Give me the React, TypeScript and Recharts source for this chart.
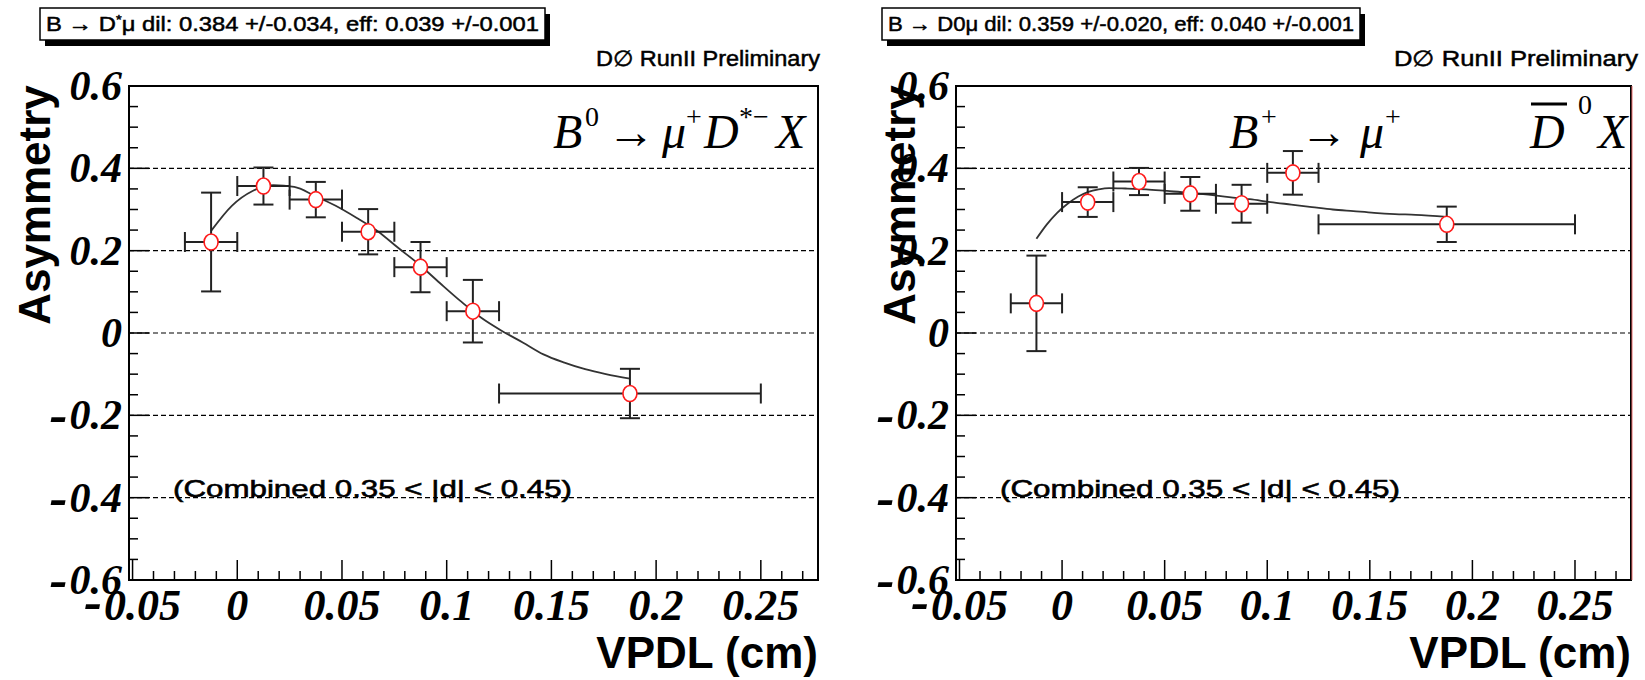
import React from "react";
import { ComposedChart, Scatter, Line, XAxis, YAxis, ErrorBar, ReferenceLine, ReferenceArea } from "recharts";

// VPDL bins (cm): centres and half widths, shared by both panels
const binCenters = [-0.0125, 0.0125, 0.0375, 0.0625, 0.0875, 0.1125, 0.1875];
const binHalfWidths = [0.0125, 0.0125, 0.0125, 0.0125, 0.0125, 0.0125, 0.0625];

// B -> D*mu sample
const dstarAsym = [0.221, 0.357, 0.324, 0.246, 0.16, 0.053, -0.147];
const dstarErr = [0.12, 0.045, 0.043, 0.055, 0.061, 0.076, 0.06];
const dstarFitX = [-0.0125, -0.0026, 0.0073, 0.0173, 0.0272, 0.0371, 0.047, 0.0569, 0.0669, 0.0768, 0.0867, 0.0966, 0.1065, 0.1165, 0.1264, 0.1363, 0.1462, 0.1562, 0.1661, 0.176, 0.1875];
const dstarFitY = [0.248, 0.309, 0.345, 0.359, 0.355, 0.333, 0.309, 0.28, 0.248, 0.207, 0.167, 0.122, 0.078, 0.037, 0.005, -0.023, -0.052, -0.072, -0.088, -0.1, -0.111];

// B -> D0mu sample
const d0Asym = [0.072, 0.318, 0.368, 0.338, 0.314, 0.389, 0.264];
const d0Err = [0.116, 0.036, 0.033, 0.041, 0.046, 0.053, 0.043];
const d0FitX = [-0.0125, -0.0074, -0.0024, 0.0027, 0.0077, 0.0128, 0.0178, 0.0229, 0.0309, 0.041, 0.0511, 0.0612, 0.0713, 0.0814, 0.0915, 0.1016, 0.1117, 0.1218, 0.1319, 0.142, 0.1521, 0.1622, 0.1723, 0.1875];
const d0FitY = [0.229, 0.264, 0.292, 0.314, 0.331, 0.343, 0.349, 0.352, 0.351, 0.349, 0.345, 0.341, 0.336, 0.33, 0.325, 0.318, 0.312, 0.306, 0.3, 0.296, 0.292, 0.289, 0.287, 0.282];

const xMajorTicks = [-0.05, 0, 0.05, 0.1, 0.15, 0.2, 0.25];
const xMinorTicks = [-0.04, -0.03, -0.02, -0.01, 0.01, 0.02, 0.03, 0.04, 0.06, 0.07, 0.08, 0.09, 0.11, 0.12, 0.13, 0.14, 0.16, 0.17, 0.18, 0.19, 0.21, 0.22, 0.23, 0.24, 0.26, 0.27];
const yMajorTicks = [-0.6, -0.4, -0.2, 0, 0.2, 0.4, 0.6];
const yMinorTicks = [-0.55, -0.5, -0.45, -0.35, -0.3, -0.25, -0.15, -0.1, -0.05, 0.05, 0.1, 0.15, 0.25, 0.3, 0.35, 0.45, 0.5, 0.55];
const gridLevels = [-0.4, -0.2, 0, 0.2, 0.4];

const X_DOMAIN: [number, number] = [-0.0517, 0.2773];
const PLOT_BOTTOM = 580;

const serifNum = { fontFamily: "'Liberation Serif', 'DejaVu Serif', serif", fontStyle: "italic", fontWeight: "bold" } as const;
const sans = "'Liberation Sans', Arial, sans-serif";

// ROOT's minus sign is wider than the font's hyphen
function NumLabel({ v }: { v: number }) {
  const s = String(v);
  if (s.startsWith("-")) {
    return (
      <>
        <tspan fontSize={54}>-</tspan>
        <tspan dx={2}>{s.slice(1)}</tspan>
      </>
    );
  }
  return <>{s}</>;
}

function Marker(props: any) {
  if (props.cx == null) return <g />;
  return <ellipse cx={props.cx} cy={props.cy} rx={7} ry={8} fill="#fff" stroke="#ff1a1a" strokeWidth={1.6} />;
}

function makeYTick(plotLeft: number) {
  return (props: any) => {
    const v = props.payload.value;
    const major = yMajorTicks.includes(v);
    return (
      <g>
        <line x1={plotLeft} x2={plotLeft + (major ? 20 : 9)} y1={props.y} y2={props.y} stroke="#000" strokeWidth={1.5} />
        {major && (
          <text x={plotLeft - 7} y={props.y} textAnchor="end" dominantBaseline="central" fontSize={42} {...serifNum}>
            <NumLabel v={v} />
          </text>
        )}
      </g>
    );
  };
}

function XTick(props: any) {
  const v = props.payload.value;
  const major = xMajorTicks.includes(v);
  return (
    <g>
      <line x1={props.x} x2={props.x} y1={PLOT_BOTTOM} y2={PLOT_BOTTOM - (major ? 20 : 9)} stroke="#000" strokeWidth={1.5} />
      {major && (
        <text x={props.x} y={620} textAnchor="middle" fontSize={44} {...serifNum}>
          <NumLabel v={v} />
        </text>
      )}
    </g>
  );
}

interface PanelProps {
  left: number;
  width: number;
  plotLeft: number;
  marginRight: number;
  asym: number[];
  err: number[];
  fitX: number[];
  fitY: number[];
}

function Panel({ left, width, plotLeft, marginRight, asym, err, fitX, fitY }: PanelProps) {
  const points = binCenters.map((x, i) => ({ x, y: asym[i], ex: binHalfWidths[i], ey: err[i] }));
  const fit = fitX.map((x, i) => ({ x, y: fitY[i] }));
  return (
    <div style={{ position: "absolute", left, top: 0 }}>
      <ComposedChart width={width} height={680} margin={{ top: 86, right: marginRight, bottom: 0, left: 0 }}>
        <XAxis
          type="number"
          dataKey="x"
          domain={X_DOMAIN}
          allowDataOverflow
          ticks={[...xMajorTicks, ...xMinorTicks]}
          interval={0}
          tick={XTick}
          tickLine={false}
          axisLine={false}
          tickSize={0}
          height={100}
        />
        <YAxis
          type="number"
          dataKey="y"
          domain={[-0.6, 0.6]}
          allowDataOverflow
          ticks={[...yMajorTicks, ...yMinorTicks]}
          interval={0}
          tick={makeYTick(plotLeft)}
          tickLine={false}
          axisLine={false}
          tickSize={0}
          width={plotLeft}
        />
        {gridLevels.map((g) => (
          <ReferenceLine key={g} y={g} stroke="#000" strokeWidth={1.2} strokeDasharray="5 3" />
        ))}
        <Line data={fit} dataKey="y" type="monotone" dot={false} stroke="#333" strokeWidth={1.8} isAnimationActive={false} />
        <Scatter data={points} shape={Marker} isAnimationActive={false}>
          <ErrorBar dataKey="ex" direction="x" width={10} stroke="#222" strokeWidth={2} />
          <ErrorBar dataKey="ey" direction="y" width={10} stroke="#222" strokeWidth={2} />
        </Scatter>
        <ReferenceArea x1={X_DOMAIN[0]} x2={X_DOMAIN[1]} y1={-0.6} y2={0.6} fill="none" fillOpacity={0} stroke="#000" strokeWidth={2} />
      </ComposedChart>
    </div>
  );
}

function StatBox({ x, w, children }: { x: number; w: number; children: React.ReactNode }) {
  return (
    <g>
      <rect x={x + 5} y={14} width={w} height={32} fill="#000" />
      <rect x={x} y={8} width={w} height={32} fill="#fff" stroke="#000" strokeWidth={1.5} />
      <text
        x={x + 6}
        y={31}
        fontFamily={sans}
        fontSize={21}
        stroke="#000"
        strokeWidth={0.5}
        textLength={w - 12}
        lengthAdjust="spacingAndGlyphs"
      >
        {children}
      </text>
    </g>
  );
}

function Overlay() {
  const big = "'Liberation Serif', 'DejaVu Serif', serif";
  return (
    <svg width={1645} height={680} style={{ position: "absolute", left: 0, top: 0, pointerEvents: "none" }}>
      <StatBox x={40} w={505}>
        {"B → D"}
        <tspan fontSize={13} dy={-7}>*</tspan>
        <tspan dy={7}>{"μ dil: 0.384 +/-0.034, eff: 0.039 +/-0.001"}</tspan>
      </StatBox>
      <StatBox x={882} w={478}>
        {"B → D0μ dil: 0.359 +/-0.020, eff: 0.040 +/-0.001"}
      </StatBox>

      <text x={596} y={66} fontFamily={sans} fontSize={22} stroke="#000" strokeWidth={0.5} textLength={224} lengthAdjust="spacingAndGlyphs">
        D∅ RunII Preliminary
      </text>
      <text x={1394} y={66} fontFamily={sans} fontSize={22} stroke="#000" strokeWidth={0.5} textLength={244} lengthAdjust="spacingAndGlyphs">
        D∅ RunII Preliminary
      </text>

      <text fontFamily={big} fontSize={48} y={148}>
        <tspan x={553} fontStyle="italic">B</tspan>
        <tspan x={585} fontSize={28} dy={-22}>0</tspan>
        <tspan x={607} dy={22}>→</tspan>
        <tspan x={662} fontStyle="italic">μ</tspan>
        <tspan x={686} fontSize={28} dy={-22}>+</tspan>
        <tspan x={704} dy={22} fontStyle="italic">D</tspan>
        <tspan x={739} fontSize={28} dy={-22}>*−</tspan>
        <tspan x={776} dy={22} fontStyle="italic">X</tspan>
      </text>

      <text fontFamily={big} fontSize={48} y={148}>
        <tspan x={1229} fontStyle="italic">B</tspan>
        <tspan x={1261} fontSize={28} dy={-22}>+</tspan>
        <tspan x={1300} dy={22}>→</tspan>
        <tspan x={1360} fontStyle="italic">μ</tspan>
        <tspan x={1385} fontSize={28} dy={-22}>+</tspan>
        <tspan x={1530} dy={22} fontStyle="italic">D</tspan>
        <tspan x={1578} fontSize={28} dy={-34}>0</tspan>
        <tspan x={1598} dy={34} fontStyle="italic">X</tspan>
      </text>
      <line x1={1531} x2={1567} y1={104} y2={104} stroke="#000" strokeWidth={3} />

      <text x={173} y={497} fontFamily={sans} fontSize={24} stroke="#000" strokeWidth={0.6} textLength={399} lengthAdjust="spacingAndGlyphs">
        (Combined 0.35 {"<"} |d| {"<"} 0.45)
      </text>
      <text x={1000} y={497} fontFamily={sans} fontSize={24} stroke="#000" strokeWidth={0.6} textLength={400} lengthAdjust="spacingAndGlyphs">
        (Combined 0.35 {"<"} |d| {"<"} 0.45)
      </text>

      <text transform="translate(34,205) rotate(-90)" textAnchor="middle" dominantBaseline="central" fontFamily={sans} fontWeight="bold" fontSize={44}>
        Asymmetry
      </text>
      <text transform="translate(899,205) rotate(-90)" textAnchor="middle" dominantBaseline="central" fontFamily={sans} fontWeight="bold" fontSize={44}>
        Asymmetry
      </text>
      <text x={818} y={668} textAnchor="end" fontFamily={sans} fontWeight="bold" fontSize={44}>VPDL (cm)</text>
      <text x={1631} y={668} textAnchor="end" fontFamily={sans} fontWeight="bold" fontSize={44}>VPDL (cm)</text>

      <line x1={1632} x2={1632} y1={86} y2={580} stroke="#e86a6a" strokeWidth={1} />
    </svg>
  );
}

export default function App() {
  return (
    <div style={{ position: "absolute", left: 0, top: 0, width: 1645, height: 680, background: "#fff" }}>
      <Panel left={0} width={830} plotLeft={129} marginRight={12} asym={dstarAsym} err={dstarErr} fitX={dstarFitX} fitY={dstarFitY} />
      <Panel left={830} width={815} plotLeft={126} marginRight={14} asym={d0Asym} err={d0Err} fitX={d0FitX} fitY={d0FitY} />
      <Overlay />
    </div>
  );
}
